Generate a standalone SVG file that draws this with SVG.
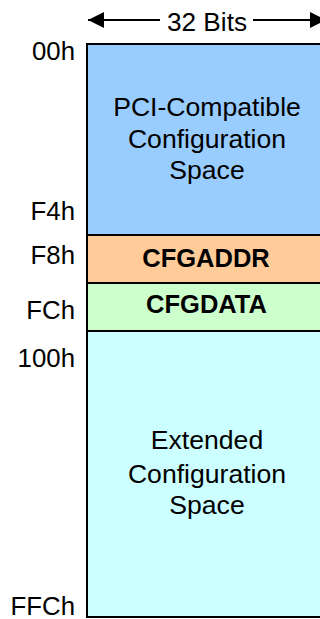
<svg xmlns="http://www.w3.org/2000/svg" width="320" height="619" viewBox="0 0 320 619">
<defs>
<style>
.lbl{font-family:"Liberation Sans",Arial,sans-serif;font-size:25.8px;fill:#000;text-anchor:end}
.t{font-family:"Liberation Sans",Arial,sans-serif;font-size:26.6px;fill:#000;text-anchor:middle}
.b{font-family:"Liberation Sans",Arial,sans-serif;font-size:25.5px;font-weight:bold;fill:#000;text-anchor:middle}
.box{stroke:#000;stroke-width:2}
</style>
<marker id="ah" viewBox="0 0 16 16" refX="16" refY="8" markerWidth="16" markerHeight="16" markerUnits="userSpaceOnUse" orient="auto"><path d="M0,0 L16,8 L0,16 Z" fill="#000"/></marker>
</defs>
<g id="connectors">
<line x1="160" y1="20" x2="88" y2="20" stroke="#000" stroke-width="2" marker-end="url(#ah)"/>
<line x1="253" y1="20" x2="326" y2="20" stroke="#000" stroke-width="2" marker-end="url(#ah)"/>
</g>
<g id="width-label"><text class="t" x="207" y="31" style="font-size:26.2px">32 Bits</text></g>
<g id="pci-space">
<rect class="box" x="87" y="44" width="245" height="191" fill="#99CCFF"/>
<text class="t" x="207" y="115.5">PCI-Compatible</text>
<text class="t" x="207" y="148">Configuration</text>
<text class="t" x="207" y="179">Space</text>
</g>
<g id="cfgaddr">
<rect class="box" x="87" y="235" width="245" height="48" fill="#FFCC99"/>
<text class="b" x="206" y="267.3">CFGADDR</text>
</g>
<g id="cfgdata">
<rect class="box" x="87" y="283" width="245" height="48" fill="#CCFFCC"/>
<text class="b" x="206.5" y="313.3">CFGDATA</text>
</g>
<g id="extended-space">
<rect class="box" x="87" y="331" width="245" height="286" fill="#CCFFFF"/>
<text class="t" x="207" y="449">Extended</text>
<text class="t" x="207" y="483">Configuration</text>
<text class="t" x="207" y="514">Space</text>
</g>
<g id="labels">
<text class="lbl" x="75" y="60">00h</text>
<text class="lbl" x="75" y="219.5">F4h</text>
<text class="lbl" x="75" y="264">F8h</text>
<text class="lbl" x="75" y="318.5">FCh</text>
<text class="lbl" x="75" y="367">100h</text>
<text class="lbl" x="75" y="615">FFCh</text>
</g>
</svg>
